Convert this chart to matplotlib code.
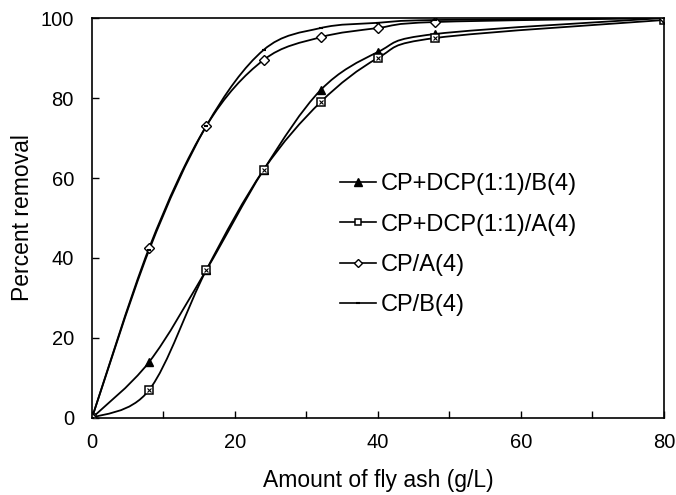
import matplotlib
matplotlib.use("Agg")
import matplotlib.pyplot as plt
import numpy as np
from matplotlib.path import Path
from matplotlib.patches import PathPatch
from matplotlib.lines import Line2D

plt.rcParams['font.family'] = ['Liberation Sans', 'DejaVu Sans']

# fly ash dose (g/L)
dose = [0, 8, 16, 24, 32, 40, 48, 80]

# percent removal per system
cpdcp_b = [0, 14, 37, 62, 82, 91.5, 96, 100]
cpdcp_a = [0, 7, 37, 62, 79, 90, 95, 99.5]
cp_a = [0, 42.5, 73, 89.5, 95.2, 97.5, 99, 100]
cp_b = [0, 42, 73, 92, 97.5, 98.8, 99.5, 100]

labels = ['CP+DCP(1:1)/B(4)', 'CP+DCP(1:1)/A(4)', 'CP/A(4)', 'CP/B(4)']


def smooth_path(x, y):
    # catmull-rom style bezier through the points (like excel smoothed lines)
    pts = np.column_stack([x, y]).astype(float)
    n = len(pts)
    verts = [pts[0]]
    codes = [Path.MOVETO]
    for i in range(n - 1):
        p0 = pts[i - 1] if i > 0 else pts[i]
        p1 = pts[i]
        p2 = pts[i + 1]
        p3 = pts[i + 2] if i + 2 < n else pts[i + 1]
        c1 = p1 + (p2 - p0) / 6.0
        c2 = p2 - (p3 - p1) / 6.0
        verts += [c1, c2, p2]
        codes += [Path.CURVE4] * 3
    return Path(verts, codes)


fig = plt.figure(figsize=(6.76, 4.95), dpi=100)
ax = fig.add_axes([0.136, 0.1556, 0.846, 0.808])

series = [cpdcp_b, cpdcp_a, cp_a, cp_b]
for s in series:
    ax.add_patch(PathPatch(smooth_path(dose, s), facecolor='none',
                           edgecolor='black', lw=1.3))

ax.plot(dose, cpdcp_b, ls='none', marker='^', ms=6, color='black')
ax.plot(dose, cpdcp_a, ls='none', marker='s', ms=5.5, mfc='white',
        mec='black', mew=1.1)
ax.plot(dose, cpdcp_a, ls='none', marker='x', ms=2.5, color='black', mew=0.8)
ax.plot(dose, cp_a, ls='none', marker='D', ms=5.5, mfc='white',
        mec='black', mew=1.0)
ax.plot(dose, cp_b, ls='none', marker='_', ms=3, color='black', mew=1.5)

ax.set_xlim(0, 80)
ax.set_ylim(0, 100)
ax.set_xticks([0, 20, 40, 60, 80])
ax.set_xticks([10, 30, 50, 70], minor=True)
ax.set_yticks([0, 20, 40, 60, 80, 100])
ax.tick_params(axis='both', which='both', direction='in', labelsize=14.5,
               length=5, width=1)
ax.tick_params(axis='x', pad=11)
ax.tick_params(axis='y', pad=13)
ax.tick_params(axis='x', which='minor', length=5)
for sp in ax.spines.values():
    sp.set_linewidth(1.2)

ax.set_xlabel('Amount of fly ash (g/L)', fontsize=16.5, labelpad=12)
ax.set_ylabel('Percent removal', fontsize=16.5, labelpad=5)

handles = [
    Line2D([], [], color='black', lw=1.2, marker='^', ms=6),
    Line2D([], [], color='black', lw=1.2, marker='s', ms=4.5, mfc='white', mew=1.1),
    Line2D([], [], color='black', lw=1.2, marker='D', ms=4.5, mfc='white', mew=1.0),
    Line2D([], [], color='black', lw=1.2, marker='_', ms=3, mew=1.5),
]
ax.legend(handles, labels, loc='upper left', bbox_to_anchor=(0.434, 0.612),
          frameon=False, fontsize=17, labelspacing=0.78, handlelength=1.5,
          handletextpad=0.2, borderpad=0, borderaxespad=0)

fig.savefig('out.png', dpi=100)
